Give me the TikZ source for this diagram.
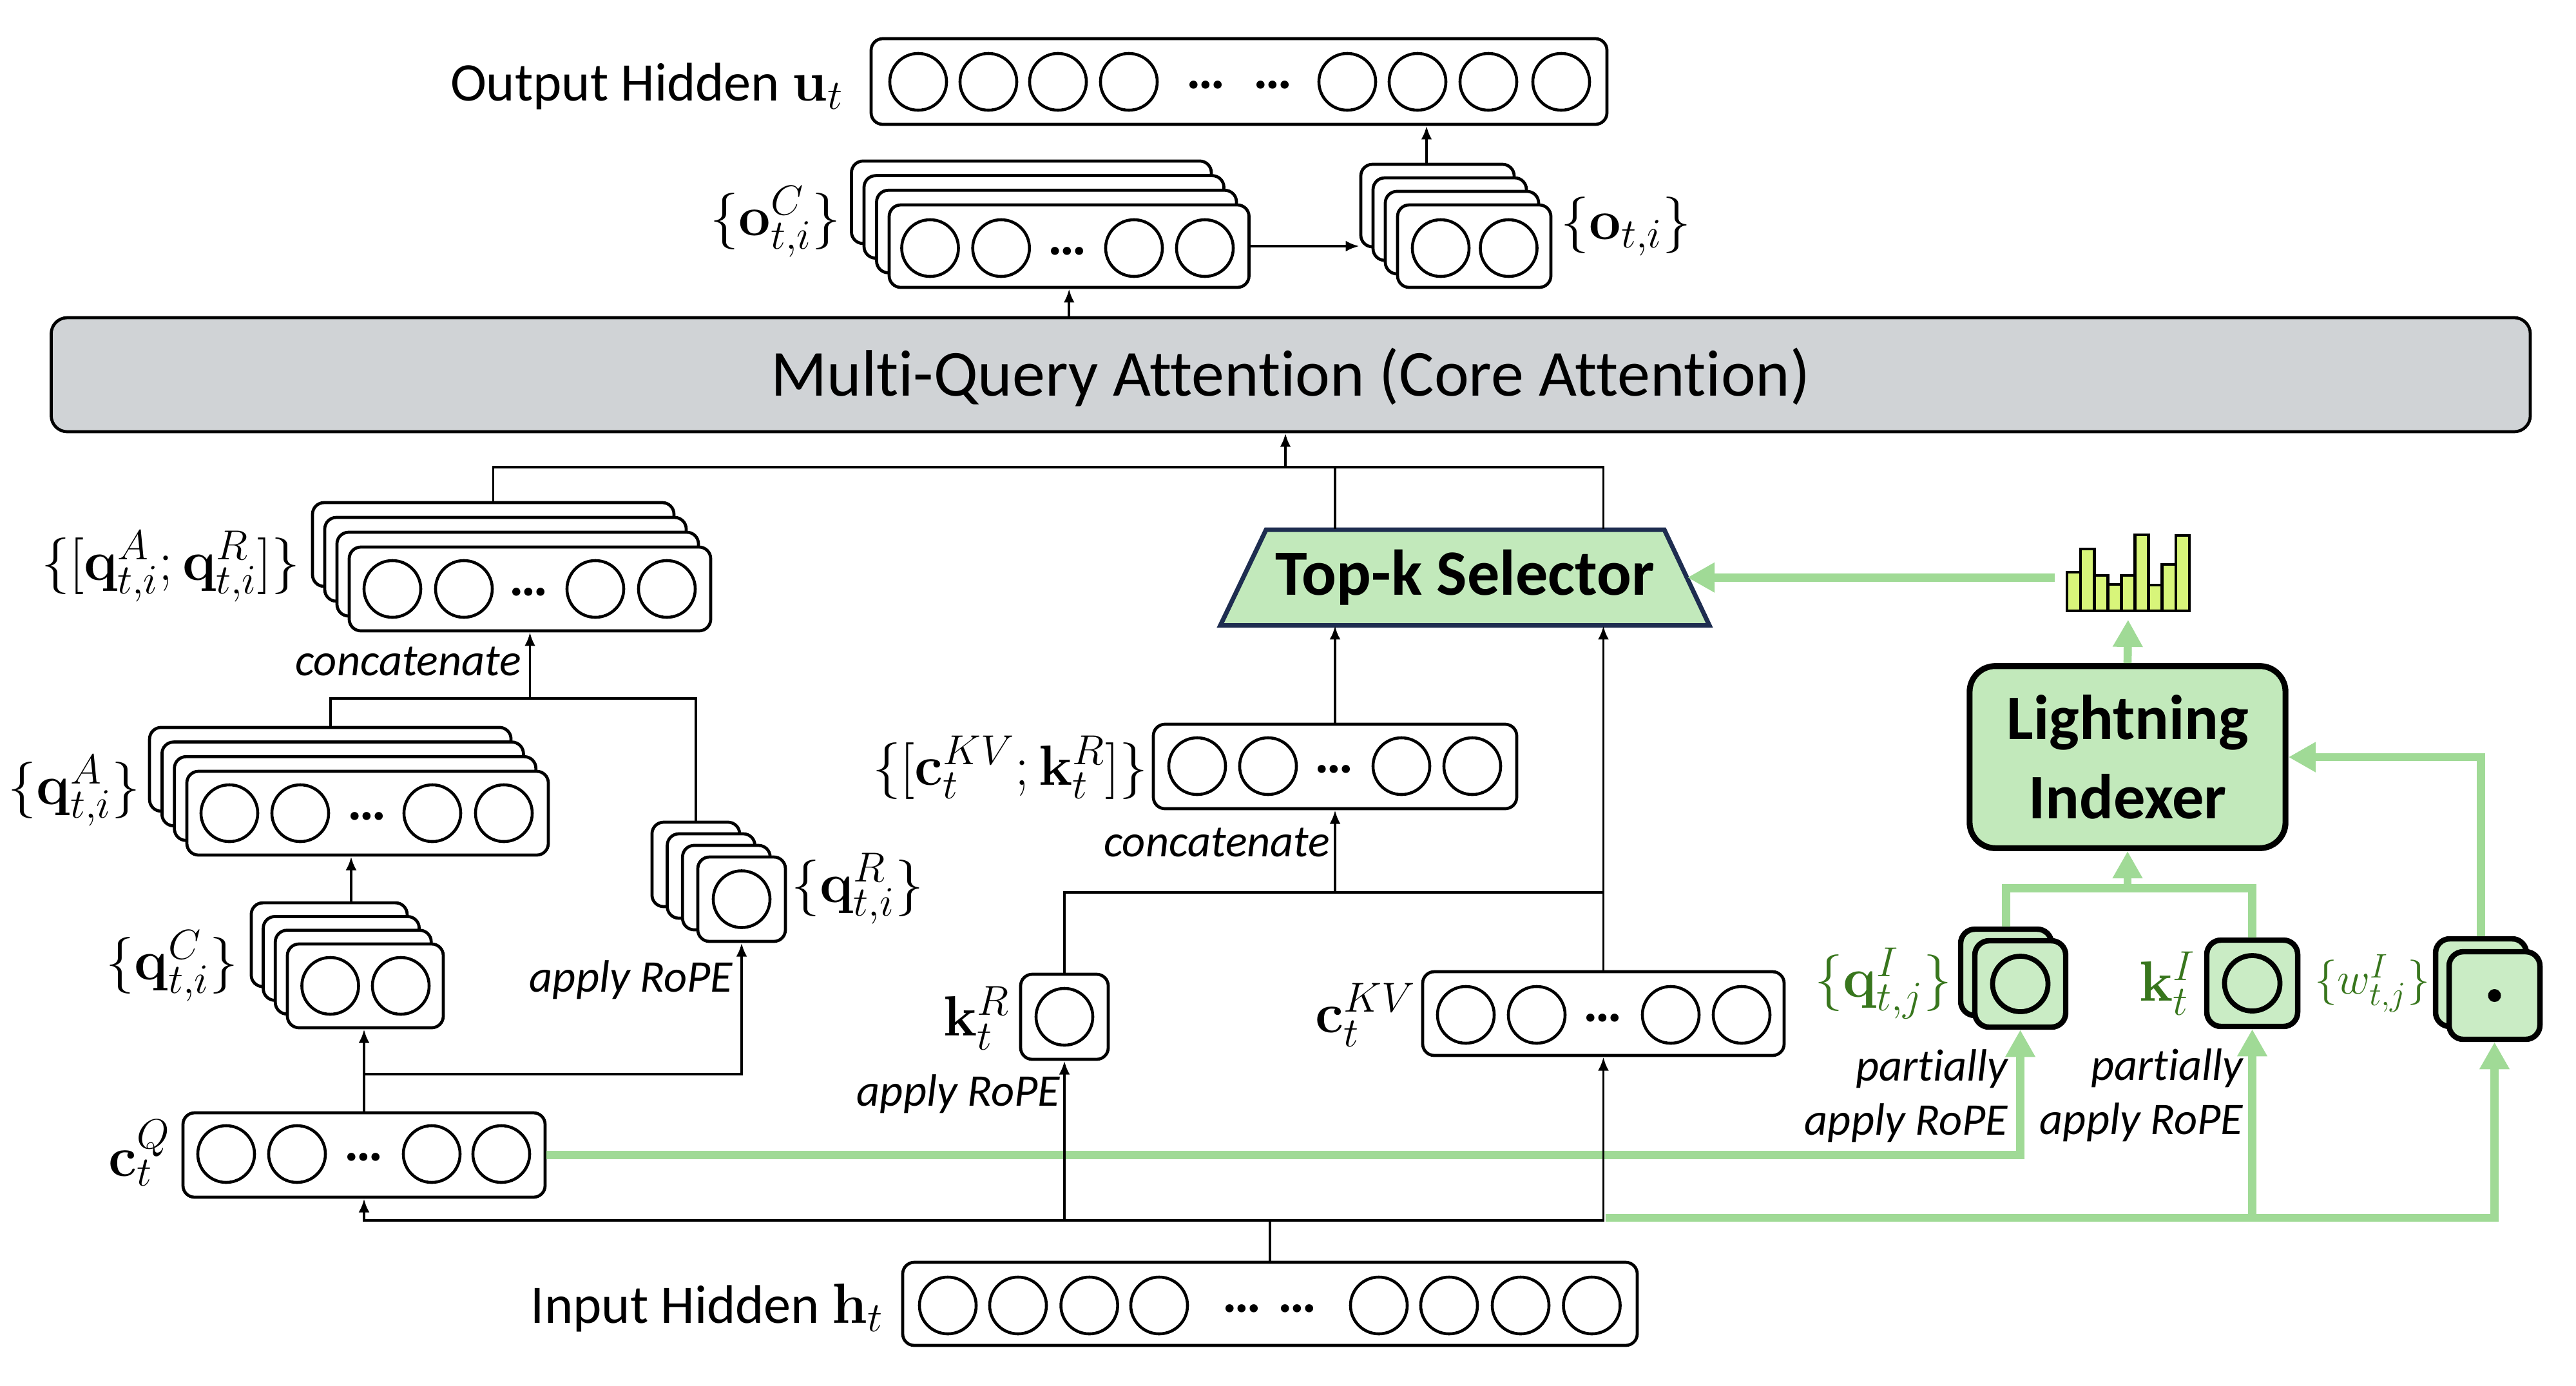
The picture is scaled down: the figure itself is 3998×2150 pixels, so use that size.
\RequirePackage{fix-cm}
\documentclass[tikz,border=0pt]{standalone}
\usepackage[no-math]{fontspec}
\setmainfont[Ligatures=NoCommon]{Carlito}
\usetikzlibrary{arrows.meta}
\DeclareMathSizes{24}{25}{18.5}{13}
\DeclareMathSizes{19}{20}{15}{11}
\definecolor{lgreen}{RGB}{160,218,150}
\definecolor{boxgreen}{RGB}{194,233,187}
\definecolor{ibox}{RGB}{202,236,197}
\definecolor{navy}{RGB}{30,45,80}
\definecolor{mqagray}{RGB}{208,211,214}
\definecolor{barc}{RGB}{216,245,122}
\definecolor{dgreen}{RGB}{56,118,29}
\newcommand{\mkbox}[6][]{%
  \pgfmathsetmacro\myW{((#5)-(#3))*0.01}%
  \pgfmathsetmacro\myH{((#6)-(#4))*0.01}%
  \pgfmathsetmacro\myX{((#3)+(#5))/2}%
  \pgfmathsetmacro\myY{((#4)+(#6))/2}%
  \node[vbox,#1,minimum width=\myW cm,minimum height=\myH cm] (#2) at (\myX,\myY) {};%
}
\newcommand{\mkstack}[9][]{%
  \pgfmathtruncatemacro\myN{(#3)-1}%
  \foreach \k in {\myN,...,1}{%
    \mkbox[#1]{#2-b\k}{(#6)-\k*(#4)}{(#7)-\k*(#5)}{(#8)-\k*(#4)}{(#9)-\k*(#5)}%
  }%
  \mkbox[#1]{#2}{#6}{#7}{#8}{#9}%
}
\begin{document}
\begin{tikzpicture}[x=0.01cm,y=-0.01cm,
  vbox/.style={draw, line width=1.35pt, rounded corners=0.18cm, fill=white, inner sep=0pt},
  gst/.style={draw, line width=2.4pt, rounded corners=0.22cm, fill=ibox, inner sep=0pt},
  cir/.style={circle, draw, line width=1.3pt, minimum size=0.88cm, inner sep=0pt},
  gcir/.style={circle, draw, line width=2.2pt, minimum size=0.86cm, inner sep=0pt},
  dots/.style={font=\bfseries\fontsize{24}{24}\selectfont, inner sep=0pt},
  lab/.style={font=\fontsize{24}{28}\selectfont, inner sep=0pt},
  itl/.style={font=\itshape\fontsize{20}{24}\selectfont, inner sep=0pt, align=right},
  wire/.style={line width=1.1pt},
  arr/.style={wire, -{Latex[length=6pt,width=4.8pt]}},
  gwire/.style={draw=lgreen, line width=3.6pt},
  garr/.style={gwire, -{Triangle[length=12pt,width=12.5pt]}},
  barst/.style={draw, line width=1.3pt, fill=barc},
]
\useasboundingbox (0,0) rectangle (3998,2150);

% ---------- Output hidden ----------
\mkbox{uh}{1352}{60}{2494}{193}
\foreach \x [count=\i] in {1425,1534,1642,1752,2091,2200,2310,2423} \node[cir] (uh-c\i) at (\x,127) {};
\node[dots] (uh-d1) at (1872,132) {…};
\node[dots] (uh-d2) at (1976,132) {…};
\node[lab, anchor=base east] (uhl) at (1310,156) {Output Hidden $\mathbf{u}_t$};

% ---------- o^C and o stacks ----------
\mkstack{oc}{4}{19.5}{22.7}{1380}{318}{1938.5}{446}
\foreach \x [count=\i] in {1443.5,1553.7,1760,1870} \node[cir] (oc-c\i) at (\x,385) {};
\node[dots] (oc-d) at (1656.5,390) {…};
\node[lab, anchor=east] (ocl) at (1305,344) {$\{\mathbf{o}^C_{t,i}\}$};

\mkstack{o}{4}{19}{21}{2169}{318}{2407}{446}
\foreach \x [count=\i] in {2236,2341.5} \node[cir] (o-c\i) at (\x,385) {};
\node[lab, anchor=west] (ol) at (2422,351) {$\{\mathbf{o}_{t,i}\}$};

% ---------- MQA ----------
\mkbox[fill=mqagray, rounded corners=0.25cm]{mqa}{79.5}{493}{3927}{670}
\node[font=\fontsize{29}{34}\selectfont, inner sep=0pt] (mqat) at (2003,585) {Multi-Query Attention (Core Attention)};

% ---------- query side ----------
\mkstack{qar}{4}{19}{23}{542}{849}{1103}{979}
\foreach \x [count=\i] in {609,720,924,1035} \node[cir] (qar-c\i) at (\x,914) {};
\node[dots] (qar-d) at (821,919) {…};
\node[lab, anchor=east] (qarl) at (466,879) {$\{[\mathbf{q}^A_{t,i};\mathbf{q}^R_{t,i}]\}$};
\node[itl, anchor=east] (cat1) at (810,1026) {concatenate};

\mkstack{qa}{4}{19.3}{22.7}{290}{1197}{851}{1327}
\foreach \x [count=\i] in {356,466,671,782} \node[cir] (qa-c\i) at (\x,1262) {};
\node[dots] (qa-d) at (570,1267) {…};
\node[lab, anchor=east] (qal) at (218,1227) {$\{\mathbf{q}^A_{t,i}\}$};

\mkstack{qc}{4}{18.7}{21.3}{446}{1465}{688}{1595}
\foreach \x [count=\i] in {512.5,622} \node[cir] (qc-c\i) at (\x,1530) {};
\node[lab, anchor=east] (qcl) at (370,1499) {$\{\mathbf{q}^C_{t,i}\}$};

\mkstack{qr}{4}{23.7}{18}{1083}{1330}{1219}{1461}
\node[cir] (qr-c1) at (qr.center) {};
\node[lab, anchor=west] (qrl) at (1228,1379) {$\{\mathbf{q}^R_{t,i}\}$};
\node[itl, anchor=east] (rope1) at (1138,1521) {apply RoPE};

\mkbox{cq}{284}{1727}{846}{1858}
\foreach \x [count=\i] in {351,461,670,778} \node[cir] (cq-c\i) at (\x,1791) {};
\node[dots] (cq-d) at (565,1796) {…};
\node[lab, anchor=east] (cql) at (265,1789) {$\mathbf{c}^Q_t$};

% ---------- key side ----------
\mkbox{ckr}{1790}{1124}{2354}{1255}
\foreach \x [count=\i] in {1858,1968,2175,2285} \node[cir] (ckr-c\i) at (\x,1189) {};
\node[dots] (ckr-d) at (2070.5,1194) {…};
\node[lab, anchor=east] (ckrl) at (1782,1191) {$\{[\mathbf{c}^{KV}_t;\mathbf{k}^R_t]\}$};
\node[itl, anchor=east] (cat2) at (2065,1307) {concatenate};

\mkbox{kr}{1584}{1512}{1720}{1644}
\node[cir] (kr-c1) at (kr.center) {};
\node[lab, anchor=east] (krl) at (1568,1580) {$\mathbf{k}^R_t$};
\node[itl, anchor=east] (rope2) at (1646,1698) {apply RoPE};

\mkbox{ckv}{2208}{1508}{2769}{1638}
\foreach \x [count=\i] in {2275,2385,2593,2703} \node[cir] (ckv-c\i) at (\x,1575) {};
\node[dots] (ckv-d) at (2488,1580) {…};
\node[lab, anchor=east] (ckvl) at (2198,1575) {$\mathbf{c}^{KV}_t$};

% ---------- input hidden ----------
\mkbox{h}{1401}{1959}{2541}{2088}
\foreach \x [count=\i] in {1471,1580,1690.6,1799,2140,2249,2360,2470.5} \node[cir] (h-c\i) at (\x,2026) {};
\node[dots] (h-d1) at (1928,2031) {…};
\node[dots] (h-d2) at (2014,2031) {…};
\node[lab, anchor=base east] (hl) at (1372,2053) {Input Hidden $\mathbf{h}_t$};

% ---------- Top-k selector ----------
\path[draw=navy, line width=2pt, fill=boxgreen, line join=miter]
  (1965,822) -- (2583,822) -- (2653,970.5) -- (1894,970.5) -- cycle;
\node[inner sep=0pt, minimum width=6.18cm, minimum height=1.485cm,
      font=\bfseries\fontsize{28.5}{34}\selectfont] (topk) at (2274,896.25) {Top-k Selector};
\coordinate (topkE) at (2619,896.25);

% ---------- indexer side ----------
\node[gst, fill=boxgreen, line width=2.6pt, rounded corners=0.4cm, minimum width=4.9cm,
      minimum height=2.825cm, align=center, font=\bfseries\fontsize{28}{35}\selectfont]
      (li) at (3302,1175) {Lightning\\Indexer};

\node[inner sep=0pt, minimum width=1.9cm, minimum height=1.18cm] (hist) at (3303,889) {};
\foreach \t [count=\i from 0] in {888,852,893,907,893,830,908,876,831}
  \draw[barst] ({3208+21.1*\i},948) rectangle ({3229.1+21.1*\i},\t);

\mkstack[gst]{qi}{2}{22}{18}{3065}{1460}{3206}{1594}
\node[gcir] (qi-c1) at (qi.center) {};
\node[lab, anchor=east, text=dgreen] (qil) at (3030,1526) {$\{\mathbf{q}^I_{t,j}\}$};

\mkbox[gst]{ki}{3425}{1459}{3566}{1593}
\node[gcir] (ki-c1) at (ki.center) {};
\node[lab, anchor=east, text=dgreen] (kil) at (3408,1526) {$\mathbf{k}^I_t$};

\mkstack[gst]{wi}{2}{21}{20}{3801}{1477}{3942}{1613}
\node[circle, fill=black, minimum size=0.2cm, inner sep=0pt] (wi-dot) at (wi.center) {};
\node[font=\fontsize{19}{23}\selectfont, inner sep=0pt, anchor=east, text=dgreen] (wil) at (3772,1526) {$\{w^I_{t,j}\}$};

\node[itl, anchor=east] (pr1) at (3117,1701) {partially\\apply RoPE};
\node[itl, anchor=east] (pr2) at (3482,1700) {partially\\apply RoPE};

% ---------- coordinates ----------
\coordinate (topbus) at (1995,725);
\coordinate (catq) at (822.5,1084);
\coordinate (qbr) at (565,1667);
\coordinate (kvbus) at (2072,1385);
\coordinate (hbus) at (1971,1894);
\coordinate (gbus) at (2492,1890);
\coordinate (libus) at (3302,1378.6);
\coordinate (qaIn) at ([xshift=-0.255cm]qa.south);
\coordinate (oOut) at ([xshift=-0.17cm]o-b3.north);

% ---------- green connectors ----------
\draw[garr] (cq.east) -| (qi.south);
\draw[garr] (gbus) -| (ki.south);
\draw[garr] (gbus) -| (wi.south);
\draw[gwire] (qi-b1.north) |- (ki.north |- libus) -- (ki.north);
\draw[garr] (libus) -- (li.south);
\draw[garr] (wi-b1.north) |- (li.east);
\draw[garr, shorten >=0.13cm] (li.north) -- (hist.south);
\draw[garr, shorten <=0.18cm] (hist.west |- topkE) -- (topkE);

% ---------- black connectors ----------
\draw[wire] (qar-b3.north) |- (ckv.north |- topbus) -- (ckv.north |- topk.north);
\draw[wire] (ckr.north |- topbus) -- (ckr.north |- topk.north);
\draw[arr] (topbus) -- (topbus |- mqa.south);
\draw[arr] (ckr.north) -- (ckr.north |- topk.south);
\draw[arr] (ckv.north) -- (ckv.north |- topk.south);
\draw[wire] (kr.north) |- (ckv.north |- kvbus);
\draw[arr] (kvbus) -- (ckr.south);
\draw[wire] (qa-b3.north) |- (qr-b3.north |- catq) -- (qr-b3.north);
\draw[arr] (catq) -- (qar.south);
\draw[arr] (qaIn |- qc-b3.north) -- (qaIn);
\draw[arr] (cq.north) -- (cq.north |- qc.south);
\draw[arr] (qbr) -| (qr.south);
\draw[wire] (h.north) -- (hbus);
\draw[arr] (hbus) -| (cq.south);
\draw[arr] (hbus) -| (ckv.south);
\draw[arr] (kr.south |- hbus) -- (kr.south);
\draw[arr] (mqa.north -| oc.south) -- (oc.south);
\draw[arr] (oc.east) -- (oc.east -| o-b3.west);
\draw[arr] (oOut) -- (oOut |- uh.south);
\end{tikzpicture}
\end{document}
